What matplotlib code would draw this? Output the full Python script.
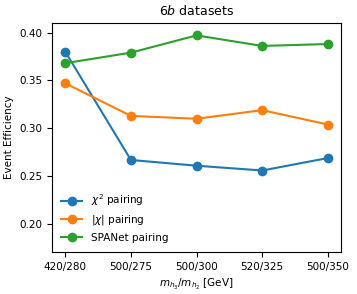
import matplotlib
matplotlib.use("Agg")
import matplotlib.pyplot as plt

categories = ["420/280", "500/275", "500/300", "520/325", "500/350"]
chi2 = [0.380, 0.267, 0.261, 0.256, 0.269]
abschi = [0.347, 0.313, 0.310, 0.319, 0.304]
spanet = [0.368, 0.379, 0.397, 0.386, 0.388]

plt.rcParams['font.size'] = 7.5
fig, ax = plt.subplots(figsize=(3.57, 2.94), dpi=100)
x = list(range(len(categories)))
ax.plot(x, chi2, marker='o', label=r'$\chi^2$ pairing')
ax.plot(x, abschi, marker='o', label=r'$|\chi|$ pairing')
ax.plot(x, spanet, marker='o', label='SPANet pairing')
ax.set_xticks(x)
ax.set_xticklabels(categories)
ax.set_ylim(0.171, 0.410)
ax.set_yticks([0.20, 0.25, 0.30, 0.35, 0.40])
ax.set_title(r'6$b$ datasets')
ax.set_ylabel('Event Efficiency')
ax.set_xlabel(r'$m_{h_3}/m_{h_2}$ [GeV]')
ax.legend(loc='lower left', frameon=False)
fig.subplots_adjust(left=0.146, right=0.955, top=0.922, bottom=0.143)
fig.savefig('out.png', dpi=100)
